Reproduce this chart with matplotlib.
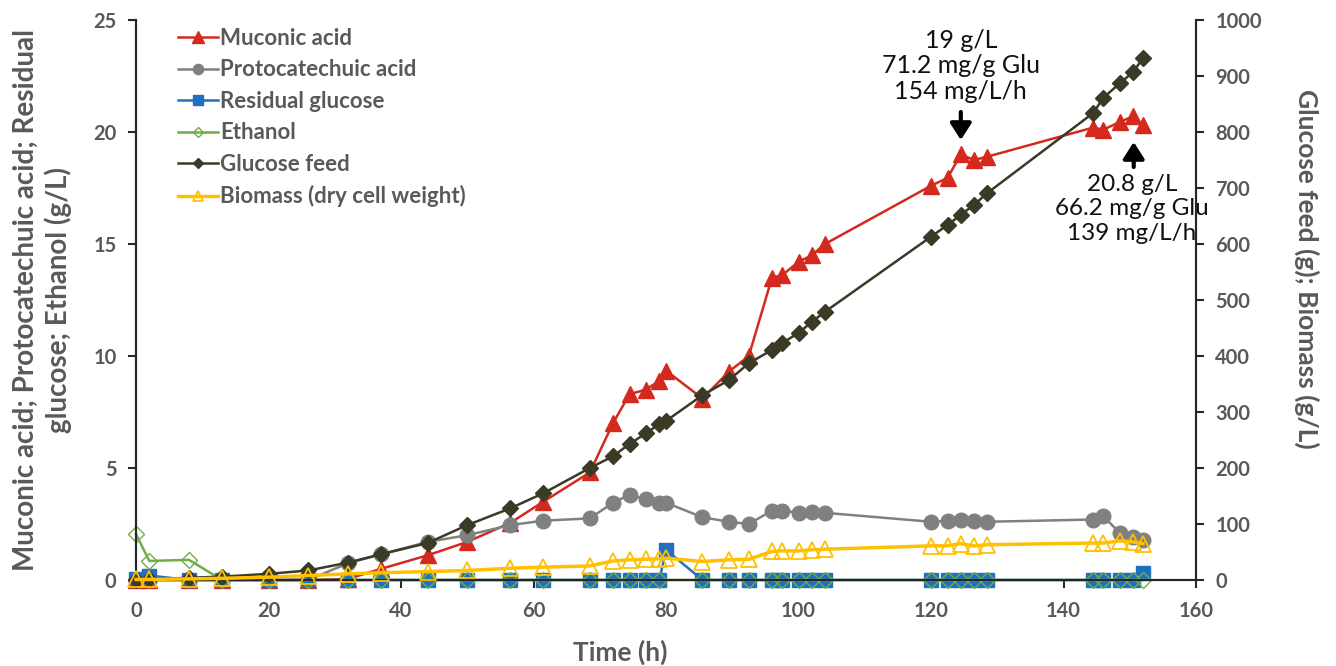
import matplotlib
matplotlib.use("Agg")
import matplotlib.pyplot as plt

# ---- data ----
time_h = [0, 2, 8, 13, 20, 26, 32, 37, 44, 50, 56.5, 61.5, 68.5, 72, 74.5, 77, 79, 80,
          85.5, 89.5, 92.5, 96, 97.5, 100, 102, 104, 120, 122.5, 124.5, 126.5, 128.5,
          144.5, 146, 148.5, 150.5, 152]
muconic = [0, 0, 0, 0, 0, 0, 0.05, 0.5, 1.1, 1.7, 2.55, 3.5, 4.8, 7.0, 8.3, 8.5, 8.9, 9.35,
           8.1, 9.3, 10.0, 13.5, 13.6, 14.2, 14.5, 15.0, 17.6, 17.95, 19.0, 18.75, 18.9,
           20.2, 20.1, 20.45, 20.7, 20.3]
pca = [0, 0, 0, 0, 0, 0, 0.75, 1.15, 1.7, 2.0, 2.45, 2.65, 2.75, 3.45, 3.8, 3.6, 3.45, 3.45,
       2.8, 2.6, 2.5, 3.1, 3.1, 3.0, 3.05, 3.0, 2.6, 2.65, 2.7, 2.65, 2.6,
       2.7, 2.85, 2.1, 1.9, 1.8]
resid_glucose = [0.05, 0.2, 0, 0, 0, 0, 0, 0, 0, 0, 0, 0, 0, 0, 0, 0, 0, 1.35,
                 0, 0, 0, 0, 0, 0, 0, 0, 0, 0, 0, 0, 0,
                 0, 0, 0, 0, 0.3]
ethanol_t = [0, 2, 8, 13, 20, 26, 32, 37, 44, 50, 56.5, 61.5, 68.5, 72, 74.5, 77, 79,
             85.5, 89.5, 92.5, 96, 97.5, 100, 102, 104, 120, 122.5, 124.5, 126.5, 128.5,
             144.5, 146, 148.5, 150.5, 152]
ethanol = [2.05, 0.85, 0.9, 0, 0, 0, 0, 0, 0, 0, 0, 0, 0, 0, 0, 0, 0,
           0, 0, 0, 0, 0, 0, 0, 0, 0, 0, 0, 0, 0,
           0, 0, 0, 0, 0]
glucose_feed = [0, 1, 4, 6, 11, 17, 31, 46, 66, 98, 128, 155, 200, 221, 243, 262, 279, 284,
                330, 357, 387, 411, 423, 441, 461, 479, 613, 634, 652, 670, 691,
                834, 861, 887, 907, 932]
biomass = [1, 1, 2, 3, 5, 8, 11, 13, 15, 17, 21, 23, 25, 34, 36, 37, 38, 39,
           33, 36, 37, 51, 52, 52, 54, 55, 61, 61, 65, 61, 63,
           66, 66, 70, 68, 65]

ann1_lines = ["19 g/L", "71.2 mg/g Glu", "154 mg/L/h"]
ann2_lines = ["20.8 g/L", "66.2 mg/g Glu", "139 mg/L/h"]

# ---- style ----
FONT = "Lato"
plt.rcParams['font.family'] = [FONT, 'DejaVu Sans']
GRAY_TXT = "#595959"
RED = "#D42A1E"
GRAY = "#808080"
BLUE = "#2170C0"
GREEN = "#70AD47"
DARK = "#3A3A26"
YELLOW = "#FFC000"

fig = plt.figure(figsize=(13.36, 6.66), dpi=100)
ax = fig.add_axes([136/1336, 1-580/666, (1196-136)/1336, (580-20)/666])
ax2 = ax.twinx()

common = dict(clip_on=False)
l1, = ax.plot(time_h, muconic, color=RED, lw=1.8, marker='^', ms=12, mfc=RED, mec=RED,
              label="Muconic acid", zorder=3, **common)
l2, = ax.plot(time_h, pca, color=GRAY, lw=1.8, marker='o', ms=10.5, mfc=GRAY, mec=GRAY,
              label="Protocatechuic acid", zorder=4, **common)
l3, = ax.plot(time_h, resid_glucose, color=BLUE, lw=1.8, marker='s', ms=10.5, mfc=BLUE, mec=BLUE,
              label="Residual glucose", zorder=5, **common)
l4, = ax.plot(ethanol_t, ethanol, color=GREEN, lw=1.8, marker='D', ms=8, mfc='none', mec=GREEN,
              mew=1.0, label="Ethanol", zorder=6, **common)
l5, = ax2.plot(time_h, glucose_feed, color=DARK, lw=1.8, marker='D', ms=8, mfc=DARK, mec=DARK,
               label="Glucose feed", zorder=3, **common)
l6, = ax2.plot(time_h, biomass, color=YELLOW, lw=2.5, marker='^', ms=11, mfc='none', mec=YELLOW,
               mew=1.3, label="Biomass (dry cell weight)", zorder=4, **common)

ax.set_xlim(0, 160)
ax.set_ylim(0, 25)
ax2.set_ylim(0, 1000)
ax.set_xticks(range(0, 161, 20))
ax.set_yticks(range(0, 26, 5))
ax2.set_yticks(range(0, 1001, 100))

for a in (ax, ax2):
    a.spines['top'].set_visible(False)
    for s in a.spines.values():
        s.set_color("#262626")
        s.set_linewidth(1.5)
    a.tick_params(axis='both', colors="#262626", labelcolor=GRAY_TXT, labelsize=14.5,
                  width=1.5, length=6, direction='out')
    for lab in a.get_xticklabels() + a.get_yticklabels():
        lab.set_fontweight('bold')
ax.tick_params(axis='x', pad=9)
ax.tick_params(axis='y', pad=8)
ax2.tick_params(axis='y', pad=8)

ax.set_xlabel("Time (h)", fontsize=19, fontweight='bold', color=GRAY_TXT)
ax.xaxis.set_label_coords((620-136)/1060, -(652-580)/560)
ax.xaxis.label.set_va('center')
ax.set_ylabel("Muconic acid; Protocatechuic acid; Residual\nglucose; Ethanol (g/L)",
              fontsize=20, fontweight='bold', color=GRAY_TXT, linespacing=1.25)
ax.yaxis.set_label_coords((42-136)/1060, 0.5)
ax.yaxis.label.set_va('center')
ax2.set_ylabel("Glucose feed (g); Biomass (g/L)", fontsize=19, fontweight='bold',
               color=GRAY_TXT, rotation=270)
ax2.yaxis.set_label_coords((1307-136)/1060, (580-269)/560)
ax2.yaxis.label.set_va('center')

leg = ax.legend(handles=[l1, l2, l3, l4, l5, l6], loc='upper left',
                bbox_to_anchor=((178-136)/1060, (580-28)/560), frameon=False, fontsize=16,
                handlelength=1.8, handletextpad=0.1, labelspacing=0.47, borderaxespad=0,
                borderpad=0)
for t in leg.get_texts():
    t.set_color(GRAY_TXT)
    t.set_fontweight('bold')
for h in leg.legend_handles:
    h.set_markersize(h.get_markersize() * 0.7)

# annotations
ax.text(124.5, (580-66)/22.4, "\n".join(ann1_lines), ha='center', va='center', fontsize=18,
        color="#111111", linespacing=1.15)
arrow_kw = dict(arrowstyle='-|>,head_length=0.5,head_width=0.32', color='black', lw=3,
                mutation_scale=20, shrinkA=0, shrinkB=0)
ax.annotate("", xy=(124.5, (580-140)/22.4), xytext=(124.5, (580-112)/22.4),
            arrowprops=arrow_kw)
ax.annotate("", xy=(150.6, (580-142)/22.4), xytext=(150.6, (580-167)/22.4),
            arrowprops=arrow_kw)
ax.text(150.3, (580-209)/22.4, "\n".join(ann2_lines), ha='center', va='center', fontsize=17.5,
        color="#111111", linespacing=1.18)

fig.savefig("out.png", dpi=100)
